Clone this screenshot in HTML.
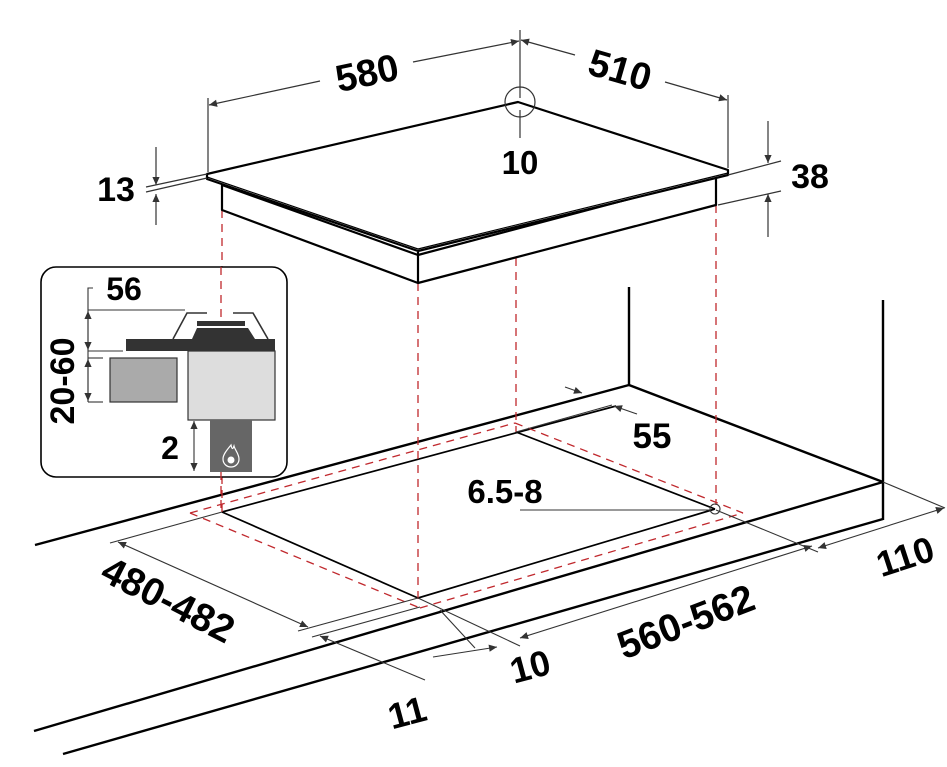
<!DOCTYPE html>
<html><head><meta charset="utf-8"><style>
html,body{margin:0;padding:0;background:#fff;}
svg{display:block;}
text{font-family:"Liberation Sans",sans-serif;font-weight:bold;fill:#000;}
</style></head><body>
<svg width="947" height="767" viewBox="0 0 947 767" xmlns="http://www.w3.org/2000/svg">
<defs>
<marker id="a" viewBox="0 0 10 10" refX="10" refY="5" markerWidth="15" markerHeight="8" orient="auto-start-reverse" markerUnits="userSpaceOnUse"><path d="M0,0.5 L10,5 L0,9.5 z" fill="#333"/></marker>
</defs>

<!-- countertop -->
<g stroke="#000" stroke-width="2.4" fill="none">
<line x1="35" y1="545" x2="629" y2="385"/>
<line x1="629" y1="287" x2="629" y2="385"/>
<line x1="629" y1="385" x2="883" y2="482"/>
<line x1="883" y1="300" x2="883" y2="520"/>
<line x1="34" y1="731" x2="883" y2="482"/>
<line x1="63" y1="754" x2="883" y2="519"/>
</g>
<!-- cutout solid -->
<g stroke="#000" stroke-width="1.7" fill="none">
<line x1="222" y1="512" x2="616" y2="406"/>
<line x1="222" y1="512" x2="418" y2="598"/>
<line x1="516" y1="432" x2="715" y2="509"/>
<line x1="418" y1="598" x2="715" y2="509"/>
</g>
<!-- red dashed -->
<g stroke="#c0282d" stroke-width="1.3" fill="none" stroke-dasharray="8,6">
<line x1="190" y1="513" x2="515" y2="423"/>
<line x1="190" y1="513" x2="420" y2="608"/>
<line x1="515" y1="423" x2="743" y2="513"/>
<line x1="420" y1="608" x2="743" y2="513"/>
<line x1="222" y1="210" x2="222" y2="512"/>
<line x1="418" y1="283" x2="418" y2="600"/>
<line x1="516" y1="258" x2="516" y2="432"/>
<line x1="716" y1="205" x2="716" y2="505"/>
</g>

<!-- hob -->
<g stroke="#000" stroke-width="2.2" fill="#fff" stroke-linejoin="round">
<polygon points="222,185 418,255 716,176 716,205 418,283 222,210"/>
<polygon points="207,174 518,102 728,170 728,175 418,251 207,179"/>
<line x1="207" y1="177" x2="418" y2="249" stroke-width="1.2"/>
<line x1="418" y1="249" x2="728" y2="173" stroke-width="1.2"/>
<line x1="418" y1="252" x2="418" y2="283"/>
</g>

<!-- top dims -->
<g stroke="#333" stroke-width="1.2" fill="none">
<line x1="208" y1="98" x2="208" y2="172"/>
<line x1="520" y1="30" x2="520" y2="98"/>
<line x1="520" y1="110" x2="520" y2="138"/>
<line x1="728" y1="95" x2="728" y2="168"/>
<ellipse cx="520" cy="102" rx="15" ry="15"/>
<line x1="320" y1="81" x2="209" y2="105" marker-end="url(#a)"/>
<line x1="413" y1="62" x2="519" y2="41" marker-end="url(#a)"/>
<line x1="575" y1="55" x2="521" y2="40" marker-end="url(#a)"/>
<line x1="665" y1="82" x2="727" y2="100" marker-end="url(#a)"/>
<line x1="156" y1="147" x2="156" y2="185" marker-end="url(#a)"/>
<line x1="156" y1="225" x2="156" y2="194" marker-end="url(#a)"/>
<line x1="146" y1="187" x2="207" y2="174"/>
<line x1="146" y1="192" x2="207" y2="178"/>
<line x1="768" y1="121" x2="768" y2="163" marker-end="url(#a)"/>
<line x1="768" y1="237" x2="768" y2="194" marker-end="url(#a)"/>
<line x1="728" y1="175" x2="781" y2="161"/>
<line x1="718" y1="205" x2="781" y2="191"/>
</g>
<text x="367" y="86" font-size="38" text-anchor="middle" transform="rotate(-12 367 73)">580</text>
<text x="620" y="83" font-size="38" text-anchor="middle" transform="rotate(16 620 70)">510</text>
<text x="520" y="174" font-size="33" text-anchor="middle">10</text>
<text x="116" y="201" font-size="34" text-anchor="middle">13</text>
<text x="810" y="188" font-size="34" text-anchor="middle">38</text>

<!-- bottom dims -->
<g stroke="#333" stroke-width="1.1" fill="none">
<line x1="110" y1="543" x2="222" y2="512"/>
<line x1="118" y1="542" x2="308" y2="627" marker-start="url(#a)" marker-end="url(#a)"/>
<line x1="298" y1="631" x2="418" y2="598"/>
<line x1="312" y1="637" x2="420" y2="607"/>
<line x1="320" y1="636" x2="425" y2="680" marker-start="url(#a)"/>
<line x1="418" y1="598" x2="520" y2="646"/>
<line x1="440" y1="610" x2="475" y2="648"/>
<line x1="433" y1="657" x2="497" y2="647" marker-end="url(#a)"/>
<line x1="520" y1="638" x2="812" y2="546" marker-start="url(#a)" marker-end="url(#a)"/>
<line x1="716" y1="510" x2="818" y2="552"/>
<line x1="883" y1="482" x2="945" y2="508"/>
<line x1="818" y1="548" x2="944" y2="508" marker-start="url(#a)" marker-end="url(#a)"/>
<line x1="520" y1="510" x2="710" y2="510"/>
<circle cx="715" cy="509" r="5"/>
<line x1="565" y1="387" x2="582" y2="393" marker-end="url(#a)"/>
<line x1="637" y1="414" x2="614" y2="406" marker-end="url(#a)"/>
<line x1="516" y1="432" x2="612" y2="405"/>
</g>
<text x="168" y="613" font-size="39" text-anchor="middle" transform="rotate(27 168 600)">480-482</text>
<text x="686" y="635" font-size="39" text-anchor="middle" transform="rotate(-21 686 622)">560-562</text>
<text x="905" y="569" font-size="36" text-anchor="middle" transform="rotate(-18 905 556)">110</text>
<text x="407" y="725" font-size="36" text-anchor="middle" transform="rotate(-15 407 712)">11</text>
<text x="530" y="679" font-size="36" text-anchor="middle" transform="rotate(-15 530 666)">10</text>
<text x="652" y="448" font-size="35" text-anchor="middle">55</text>
<text x="505" y="503" font-size="33" text-anchor="middle">6.5-8</text>

<!-- inset -->
<rect x="41" y="267" width="246" height="210" rx="15" fill="#fff" stroke="#000" stroke-width="1.6"/>
<line x1="221" y1="267" x2="221" y2="320" stroke="#c0282d" stroke-width="1.3" stroke-dasharray="8,6"/>
<line x1="221" y1="472" x2="221" y2="510" stroke="#c0282d" stroke-width="1.3" stroke-dasharray="8,6"/>
<rect x="188" y="351" width="87" height="69" fill="#ddd" stroke="#333" stroke-width="1.2"/>
<rect x="110" y="358" width="67" height="44" fill="#aaa" stroke="#333" stroke-width="1.2"/>
<rect x="126" y="339" width="149" height="12" fill="#333"/>
<polygon points="192,339 197,328 248,328 255,339" fill="#333"/>
<rect x="197" y="321" width="48" height="5" fill="#333"/>
<polyline points="173,339 187,313 207,313" fill="none" stroke="#333" stroke-width="1.6"/>
<polyline points="233,313 253,313 268,339" fill="none" stroke="#333" stroke-width="1.6"/>
<rect x="210" y="420" width="42" height="52" fill="#666"/>
<path d="M231,445 C226,451 223,455 223,459 C223,464 227,467 231,467 C235,467 239,464 239,459 C239,454 235,450 234,446 C233,449 232,450 231,445 Z" fill="none" stroke="#fff" stroke-width="1.2"/>
<circle cx="231" cy="460" r="3.5" fill="#fff"/>
<g stroke="#333" stroke-width="1.1" fill="none">
<polyline points="93,288 88,288 88,402"/>
<line x1="88" y1="310" x2="185" y2="310"/>
<line x1="88" y1="351" x2="123" y2="351"/>
<line x1="88" y1="358" x2="103" y2="358"/>
<line x1="88" y1="402" x2="103" y2="402"/>
<line x1="88" y1="330" x2="88" y2="311" marker-end="url(#a)"/>
<line x1="88" y1="330" x2="88" y2="350" marker-end="url(#a)"/>
<line x1="88" y1="380" x2="88" y2="359" marker-end="url(#a)"/>
<line x1="88" y1="380" x2="88" y2="401" marker-end="url(#a)"/>
<line x1="194" y1="445" x2="194" y2="421" marker-end="url(#a)"/>
<line x1="194" y1="445" x2="194" y2="471" marker-end="url(#a)"/>
</g>
<text x="124" y="300" font-size="32" text-anchor="middle">56</text>
<text x="170" y="459" font-size="32" text-anchor="middle">2</text>
<text x="0" y="0" font-size="34" text-anchor="middle" transform="translate(74,381) rotate(-90)">20-60</text>
</svg>
</body></html>
